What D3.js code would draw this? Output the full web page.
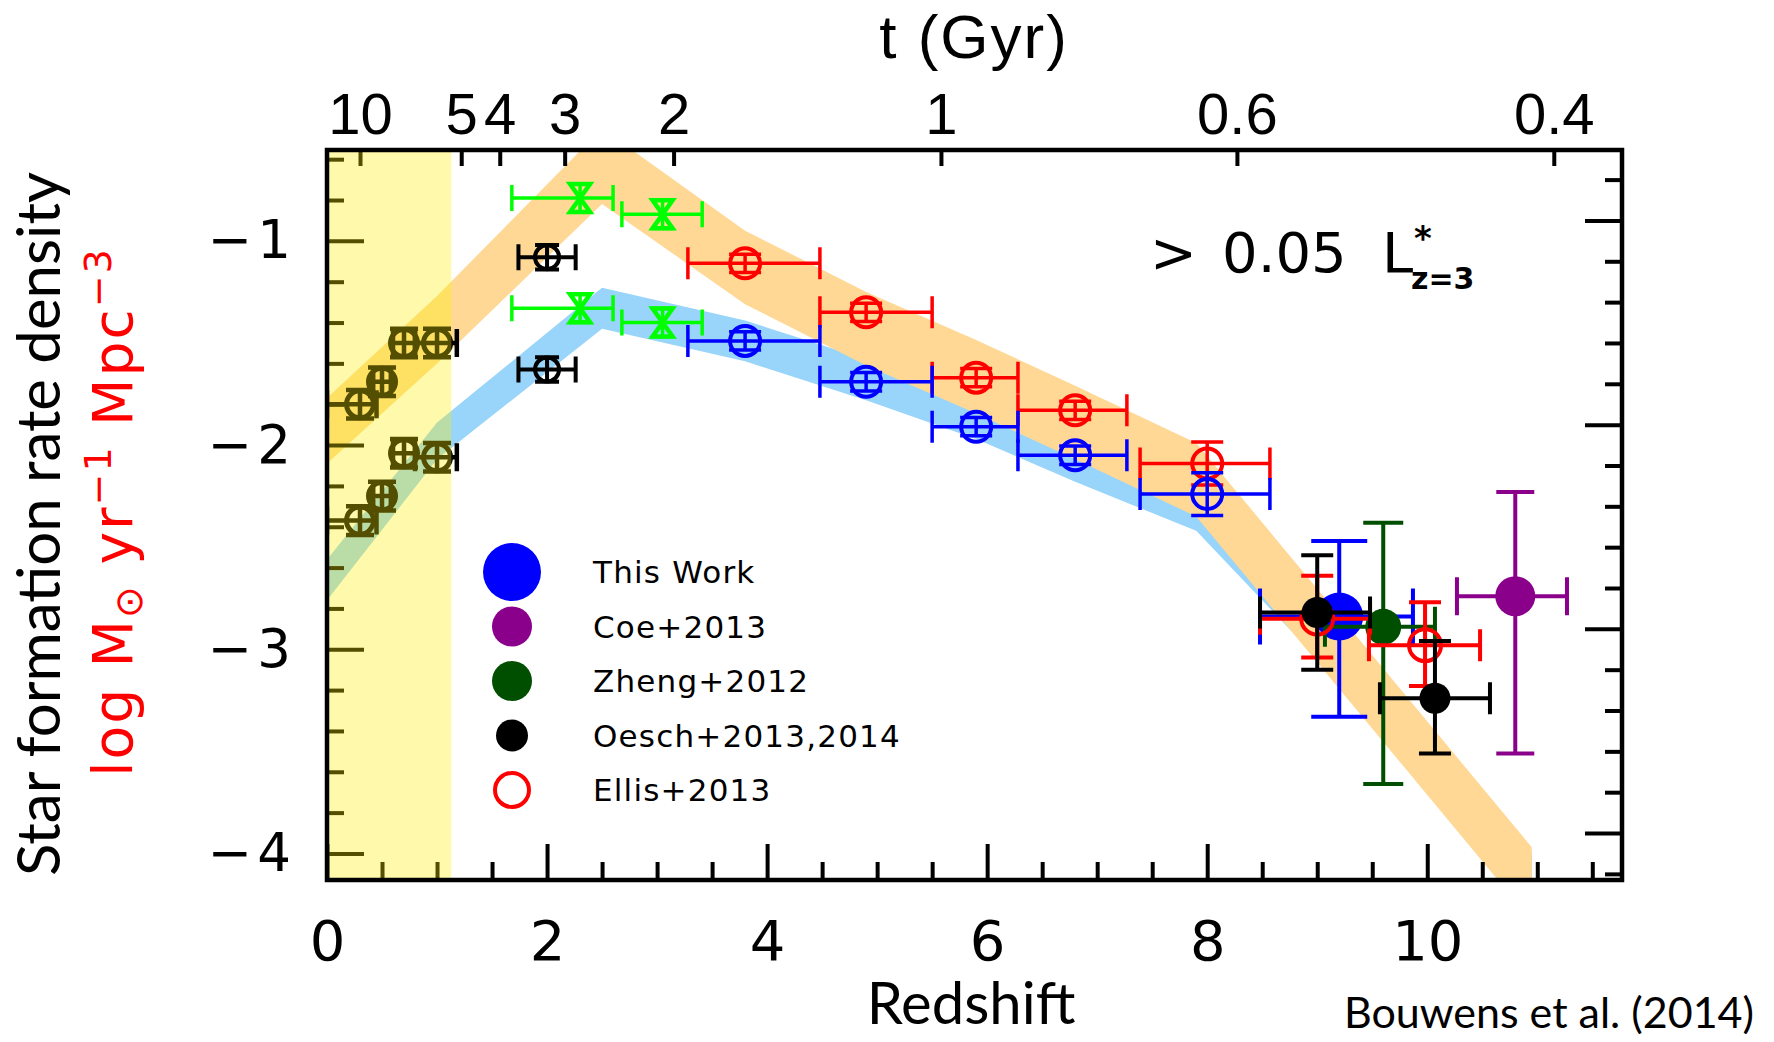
<!DOCTYPE html>
<html>
<head>
<meta charset="utf-8">
<script src="https://cdnjs.cloudflare.com/ajax/libs/d3/7.8.5/d3.min.js"></script>
<style>
  body { margin: 0; background: #fff; }
  svg { display: block; }
</style>
</head>
<body>
<svg id="sfr" width="1774" height="1042"></svg>
<script>
// ---- values ----
// shaded bands (log SFR density), edges at each redshift
const bandZ  = [0, 1.0, 2.5, 3.8, 4.9, 5.9, 6.8, 7.9, 10.95];
const dustHi = [-1.77, -1.27, -0.45, -0.95, -1.25, -1.485, -1.71, -1.99, -3.97];
const dustLo = [-2.09, -1.60, -0.82, -1.31, -1.61, -1.845, -2.07, -2.35, -4.33];
const rawHi  = [-2.56, -1.89, -1.23, -1.39, -1.58, -1.77, -1.98, -2.22, -4.00];
const rawLo  = [-2.76, -2.07, -1.43, -1.59, -1.78, -1.97, -2.18, -2.42, -4.15];

// low-z points (inside the yellow region)
const lowZ      = [0.3, 0.5, 0.7, 1.0];
const lowZLo    = [0.0, 0.42, 0.6, 0.8];
const lowZHi    = [0.45, 0.58, 0.8, 1.18];
const lowCorr   = [-1.80, -1.69, -1.50, -1.50];
const lowUncorr = [-2.37, -2.25, -2.04, -2.06];
const lowErr    = [0.07, 0.07, 0.07, 0.07];

// z~2 black points
const z2Z = [2.0], z2ZLo = [1.74], z2ZHi = [2.26];
const z2Corr = [-1.08], z2Uncorr = [-1.63], z2Err = [0.06];

// green points
const grZ = [2.3, 3.05], grZLo = [1.68, 2.68], grZHi = [2.6, 3.41];
const grCorr = [-0.79, -0.87], grUncorr = [-1.33, -1.40], grErr = [0.07, 0.07];

// LBG points z=4-8 (red: dust corrected, blue: uncorrected)
const lbgZ      = [3.8, 4.9, 5.9, 6.8, 8.0];
const lbgZLo    = [3.28, 4.48, 5.5, 6.28, 7.39];
const lbgZHi    = [4.48, 5.5, 6.28, 7.27, 8.57];
const lbgCorr   = [-1.11, -1.35, -1.67, -1.83, -2.09];
const lbgUncorr = [-1.49, -1.69, -1.91, -2.05, -2.24];
const lbgErr    = [0.045, 0.045, 0.045, 0.045, 0.105];

// high-z points
const thisZ = [9.2], thisZLo = [8.48], thisZHi = [9.87], thisY = [-2.84], thisYLo = [-3.33], thisYHi = [-2.47];
const coeZ = [10.8], coeZLo = [10.27], coeZHi = [11.27], coeY = [-2.74], coeYLo = [-3.51], coeYHi = [-2.23];
const zhengZ = [9.6], zhengZLo = [9.07], zhengZHi = [10.07], zhengY = [-2.89], zhengYLo = [-3.66], zhengYHi = [-2.38];
const oeschZ = [9.0, 10.07], oeschZLo = [8.48, 9.57], oeschZHi = [9.48, 10.57];
const oeschY = [-2.82, -3.24], oeschYLo = [-3.10, -3.51], oeschYHi = [-2.54, -2.96];
const ellisZ = [9.0, 9.98], ellisZLo = [8.48, 9.47], ellisZHi = [9.48, 10.48];
const ellisY = [-2.85, -2.98], ellisYLo = [-3.04, -3.18], ellisYHi = [-2.64, -2.77];

// yellow low-z region
const lowZRegion = [0, 1.13];

// top axis: age of the universe
const ageLabels = ["10", "5", "4", "3", "2", "1", "0.6", "0.4"];
const ageTickZ  = [0.30, 1.22, 1.57, 2.16, 3.15, 5.58, 8.27, 11.15];

// right axis majors
const rightMajor = [-0.9, -1.9, -2.9, -3.9];

// legend
const legendNames  = ["This Work", "Coe+2013", "Zheng+2012", "Oesch+2013,2014", "Ellis+2013"];
const legendColors = ["#0000ff", "#8b008b", "#004f00", "#000000", "#ff0000"];
const legendFilled = [true, true, true, true, false];
const legendR      = [29, 20, 20, 16, 17];

// ---- chart ----
const svg = d3.select("#sfr");
const x = d3.scaleLinear().domain([0, 11.77]).range([327, 1622]);
const y = d3.scaleLinear().domain([-4.13, -0.555]).range([880, 150]);

svg.append("clipPath").attr("id", "plotclip")
  .append("rect").attr("x", 327).attr("y", 150).attr("width", 1295).attr("height", 730);

const plot = svg.append("g").attr("clip-path", "url(#plotclip)");

function band(hi, lo) {
  return bandZ.map((z, i) => ({z: z, hi: hi[i], lo: lo[i]}));
}
const area = d3.area().x(d => x(d.z)).y0(d => y(d.lo)).y1(d => y(d.hi));
plot.append("path").datum(band(rawHi, rawLo)).attr("d", area).attr("fill", "#99d4fa");
plot.append("path").datum(band(dustHi, dustLo)).attr("fill", "#fed894").attr("d", area);

function rows(z, zlo, zhi, v, vlo, vhi) {
  return z.map((d, i) => ({z: d, zlo: zlo[i], zhi: zhi[i], y: v[i], ylo: vlo[i], yhi: vhi[i]}));
}
function symRows(z, zlo, zhi, v, err) {
  return rows(z, zlo, zhi, v, v.map((d, i) => d - err[i]), v.map((d, i) => d + err[i]));
}

function errBars(pts, color, capX, capY, sw) {
  plot.append("g").selectAll("path").data(pts).enter().append("path")
    .attr("fill", "none").attr("stroke", color).attr("stroke-width", sw)
    .attr("d", p => {
      const cx = x(p.z), cy = y(p.y);
      const x0 = x(p.zlo), x1 = x(p.zhi), y0 = y(p.ylo), y1 = y(p.yhi);
      return `M${x0},${cy}H${x1}M${x0},${cy - capX}V${cy + capX}M${x1},${cy - capX}V${cy + capX}` +
             `M${cx},${y0}V${y1}M${cx - capY},${y0}H${cx + capY}M${cx - capY},${y1}H${cx + capY}`;
    });
}
function openCircles(pts, color, r, sw) {
  plot.append("g").selectAll("circle").data(pts).enter().append("circle")
    .attr("cx", p => x(p.z)).attr("cy", p => y(p.y)).attr("r", r)
    .attr("fill", "none").attr("stroke", color).attr("stroke-width", sw);
}
function dots(pts, color, r) {
  plot.append("g").selectAll("circle").data(pts).enter().append("circle")
    .attr("cx", p => x(p.z)).attr("cy", p => y(p.y)).attr("r", r).attr("fill", color);
}
function bowties(pts, color) {
  plot.append("g").selectAll("path").data(pts).enter().append("path")
    .attr("fill", "none").attr("stroke", color).attr("stroke-width", 4.5)
    .attr("d", p => {
      const cx = x(p.z), cy = y(p.y);
      return `M${cx - 10},${cy - 14}H${cx + 10}L${cx - 10},${cy + 14}H${cx + 10}Z`;
    });
}

// low z
[lowCorr, lowUncorr].forEach(v => {
  const pts = symRows(lowZ, lowZLo, lowZHi, v, lowErr);
  errBars(pts, "#000", 14, 14, 4.5);
  openCircles(pts, "#000", 13.5, 5);
});
// z~2
[z2Corr, z2Uncorr].forEach(v => {
  const pts = symRows(z2Z, z2ZLo, z2ZHi, v, z2Err);
  errBars(pts, "#000", 13, 12, 4);
  openCircles(pts, "#000", 12, 4);
});
// green
[grCorr, grUncorr].forEach(v => {
  const pts = symRows(grZ, grZLo, grZHi, v, grErr);
  errBars(pts, "#00ff00", 13, 11, 3.5);
  bowties(pts, "#00ff00");
});
// LBG
[[lbgCorr, "#ff0000"], [lbgUncorr, "#0000ff"]].forEach(([v, c]) => {
  const pts = symRows(lbgZ, lbgZLo, lbgZHi, v, lbgErr);
  errBars(pts, c, 16, 16, 3.5);
  openCircles(pts, c, 15, 4);
});

// high z
const thisPts = rows(thisZ, thisZLo, thisZHi, thisY, thisYLo, thisYHi);
errBars(thisPts, "#0000ff", 28, 28, 4);
dots(thisPts, "#0000ff", 24);
const zhengPts = rows(zhengZ, zhengZLo, zhengZHi, zhengY, zhengYLo, zhengYHi);
errBars(zhengPts, "#004f00", 20, 20, 4);
dots(zhengPts, "#004f00", 18);
const ellisPts = rows(ellisZ, ellisZLo, ellisZHi, ellisY, ellisYLo, ellisYHi);
errBars(ellisPts, "#ff0000", 16, 16, 4);
openCircles(ellisPts, "#ff0000", 16, 4);
const oeschPts = rows(oeschZ, oeschZLo, oeschZHi, oeschY, oeschYLo, oeschYHi);
errBars(oeschPts, "#000000", 16, 16, 4);
dots(oeschPts, "#000000", 15.5);
const coePts = rows(coeZ, coeZLo, coeZHi, coeY, coeYLo, coeYHi);
errBars(coePts, "#8b008b", 19, 19, 4);
dots(coePts, "#8b008b", 20);

// ---- axes ----
function clean(g) {
  g.select(".domain").remove();
  g.selectAll(".tick line").attr("stroke", "#000").attr("stroke-width", 4);
  g.selectAll("text").attr("fill", "#000");
}
const isInt = v => Math.abs(v - Math.round(v)) < 1e-6;

svg.append("g").attr("transform", "translate(0,880)")
  .call(d3.axisBottom(x).tickValues(d3.range(0, 11, 2)).tickSize(-36).tickPadding(40)
    .tickFormat(d3.format("d")))
  .call(clean)
  .call(g => g.selectAll("text").attr("font-family", "DejaVu Sans").attr("font-size", 56));
svg.append("g").attr("transform", "translate(0,880)")
  .call(d3.axisBottom(x).tickValues(d3.range(1, 24).map(i => i * 0.5).filter(v => v % 2 !== 0))
    .tickSize(-18).tickFormat(""))
  .call(clean);

svg.append("g").attr("transform", "translate(327,0)")
  .call(d3.axisLeft(y).tickValues([-1, -2, -3, -4]).tickSize(-37).tickPadding(36)
    .tickFormat(d => "\u2212\u200a" + Math.abs(d)))
  .call(clean)
  .call(g => g.selectAll("text").attr("font-family", "DejaVu Sans").attr("font-size", 53));
svg.append("g").attr("transform", "translate(327,0)")
  .call(d3.axisLeft(y).tickValues(d3.range(-20, -2).map(i => i * 0.2).filter(v => !isInt(v)))
    .tickSize(-17).tickFormat(""))
  .call(clean);

svg.append("g").attr("transform", "translate(1622,0)")
  .call(d3.axisRight(y).tickValues(rightMajor).tickSize(-37).tickFormat(""))
  .call(clean);
svg.append("g").attr("transform", "translate(1622,0)")
  .call(d3.axisRight(y).tickValues(d3.range(-21, -3).map(i => i * 0.2 + 0.1).filter(v => !isInt(v + 0.9)))
    .tickSize(-17).tickFormat(""))
  .call(clean);

svg.append("g").attr("transform", "translate(0,150)")
  .call(d3.axisTop(x).tickValues(ageTickZ).tickSize(-16).tickPadding(16)
    .tickFormat((d, i) => ageLabels[i]))
  .call(clean)
  .call(g => g.selectAll("text").attr("font-family", "Liberation Sans").attr("font-size", 58));

// yellow low-z overlay, drawn over marks and ticks
svg.append("rect")
  .attr("x", x(lowZRegion[0])).attr("y", 150)
  .attr("width", x(lowZRegion[1]) - x(lowZRegion[0])).attr("height", 730)
  .attr("fill", "#fff000").attr("fill-opacity", 0.33);

// frame
svg.append("rect").attr("x", 327).attr("y", 150).attr("width", 1295).attr("height", 730)
  .attr("fill", "none").attr("stroke", "#000").attr("stroke-width", 4.5);

// ---- titles ----
svg.append("text").attr("x", 974).attr("y", 58).attr("text-anchor", "middle")
  .attr("font-family", "Liberation Sans").attr("font-size", 62).attr("letter-spacing", 2)
  .text("t (Gyr)");

svg.append("text").attr("x", 971).attr("y", 1024).attr("text-anchor", "middle")
  .attr("font-family", "Lato").attr("font-size", 58).text("Redshift");

svg.append("text").attr("x", 1754).attr("y", 1028).attr("text-anchor", "end")
  .attr("font-family", "Lato").attr("font-size", 43).text("Bouwens et al. (2014)");

svg.append("text").attr("transform", "translate(60,524) rotate(-90)").attr("text-anchor", "middle")
  .attr("font-family", "Lato").attr("font-size", 60).text("Star formation rate density");

const red = svg.append("text").attr("transform", "translate(132,512) rotate(-90)")
  .attr("text-anchor", "middle").attr("font-family", "DejaVu Sans").attr("font-size", 55)
  .attr("letter-spacing", 2).attr("fill", "#ff0000");
red.append("tspan").text("log M");
red.append("tspan").attr("font-size", 38).attr("dy", 10).text("\u2299");
red.append("tspan").attr("dy", -10).text(" yr");
red.append("tspan").attr("font-size", 38).attr("dy", -21).text("\u22121");
red.append("tspan").attr("dy", 21).text(" Mpc");
red.append("tspan").attr("font-size", 38).attr("dy", -21).text("\u22123");

// annotation
const ann = svg.append("g").attr("font-family", "DejaVu Sans").attr("fill", "#000");
ann.append("text").attr("x", 1150).attr("y", 272).attr("font-size", 56).text(">");
ann.append("text").attr("x", 1222).attr("y", 272).attr("font-size", 56).text("0.05");
ann.append("text").attr("x", 1382).attr("y", 272).attr("font-size", 56).text("L");
ann.append("text").attr("x", 1414).attr("y", 250).attr("font-size", 34).attr("font-weight", "bold").text("*");
ann.append("text").attr("x", 1411).attr("y", 289).attr("font-size", 30).attr("font-weight", "bold").text("z=3");

// legend
const leg = svg.append("g");
legendNames.forEach((name, i) => {
  const cy = 572 + i * 54.5;
  leg.append("circle").attr("cx", 512).attr("cy", cy).attr("r", legendR[i])
    .attr("fill", legendFilled[i] ? legendColors[i] : "none")
    .attr("stroke", legendFilled[i] ? "none" : legendColors[i]).attr("stroke-width", 4);
  leg.append("text").attr("x", 593).attr("y", cy + 11)
    .attr("font-family", "DejaVu Sans").attr("font-size", 31).attr("letter-spacing", 1.2)
    .text(name);
});
</script>
</body>
</html>
